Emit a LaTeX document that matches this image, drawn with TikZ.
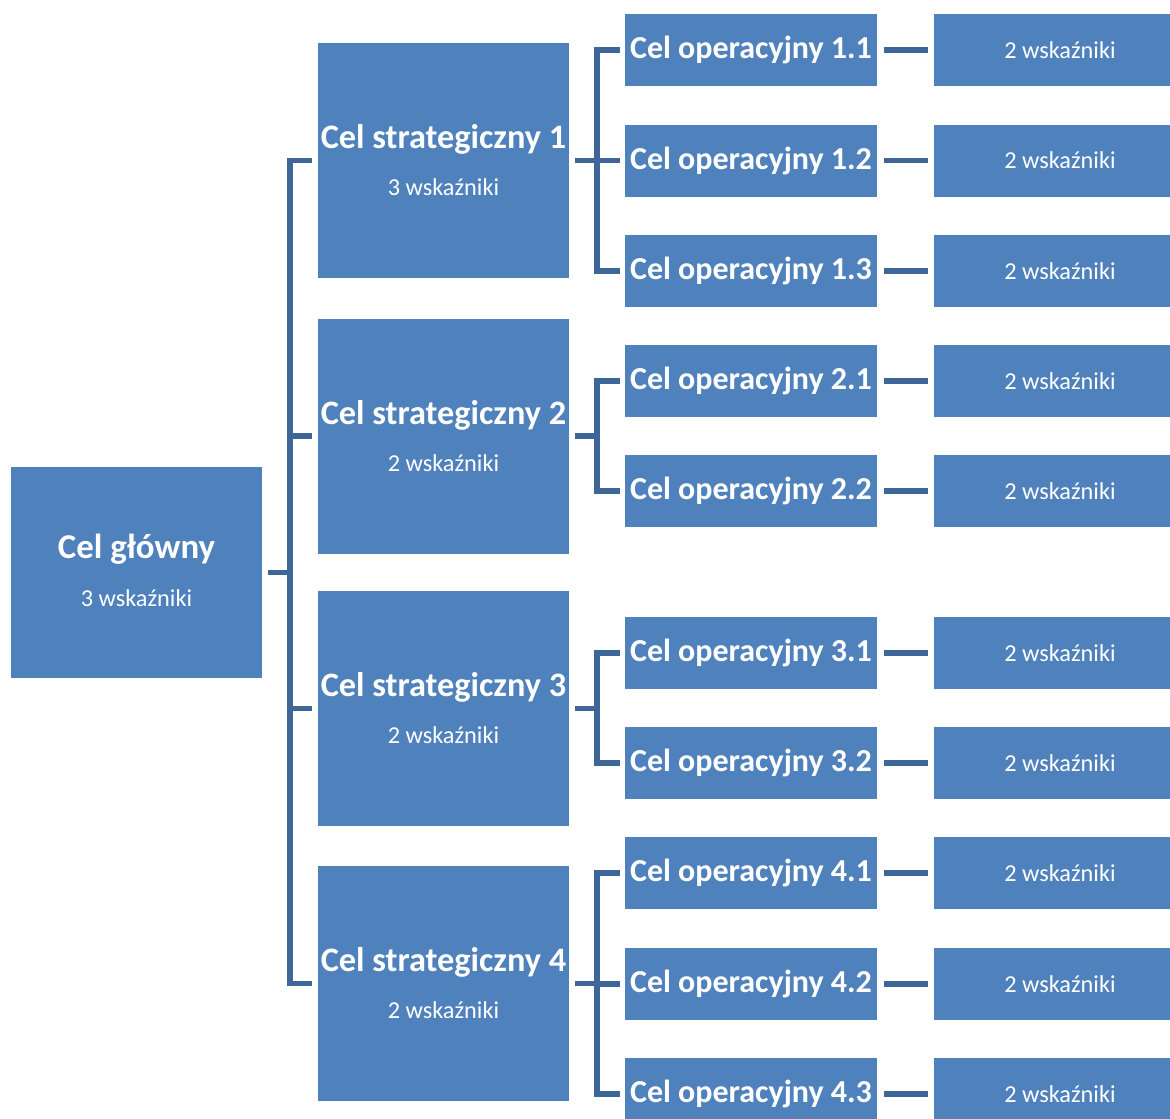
\documentclass[tikz,border=0pt]{standalone}
\usepackage{fontspec}
\setmainfont{Carlito}
\usetikzlibrary{calc}
\definecolor{boxblue}{HTML}{4F81BD}
\definecolor{linkblue}{HTML}{3F6698}
\tikzset{
  box/.style={fill=boxblue, draw=none, inner sep=0pt, outer sep=0pt},
  mainbox/.style={box, minimum width=251pt, minimum height=211pt},
  stratbox/.style={box, minimum width=251pt, minimum height=235pt},
  opbox/.style={box, minimum width=252pt, minimum height=72pt},
  indbox/.style={box, minimum width=252pt, minimum height=72pt},
  bigtitle/.style={text=white, font=\fontsize{34.8}{40}\selectfont\bfseries, inner sep=0pt},
  stitle/.style={text=white, font=\fontsize{34.3}{40}\selectfont\bfseries, inner sep=0pt},
  optitle/.style={text=white, font=\fontsize{32}{38}\selectfont\bfseries, inner sep=0pt},
  subtxt/.style={text=white, font=\fontsize{24.3}{28}\selectfont, inner sep=0pt},
  link/.style={draw=linkblue, line width=5.5pt, line join=miter}
}
\begin{document}
\begin{tikzpicture}[x=1pt,y=-1pt]
\useasboundingbox (0,0) rectangle (1170,1119);
\begin{scope}
\clip (0,0) rectangle (1170,1119);
% main
\node[mainbox] (m) at (136.5,572.5) {};
\node[bigtitle] (mt) at ($(m.center)+(0,-23)$) {Cel główny};
\node[subtxt] (ms) at ($(m.center)+(0,26)$) {3 wskaźniki};
% strategic
\node[stratbox] (s1) at (443.5,160.5) {};
\node[stratbox] (s2) at (443.5,436) {};
\node[stratbox] (s3) at (443.5,708.5) {};
\node[stratbox] (s4) at (443.5,983.5) {};
\node[stitle] (s1t) at ($(s1.center)+(0,-21)$) {Cel strategiczny 1};
\node[subtxt] (s1s) at ($(s1.center)+(0,27)$) {3 wskaźniki};
\node[stitle] (s2t) at ($(s2.center)+(0,-21)$) {Cel strategiczny 2};
\node[subtxt] (s2s) at ($(s2.center)+(0,27)$) {2 wskaźniki};
\node[stitle] (s3t) at ($(s3.center)+(0,-21)$) {Cel strategiczny 3};
\node[subtxt] (s3s) at ($(s3.center)+(0,27)$) {2 wskaźniki};
\node[stitle] (s4t) at ($(s4.center)+(0,-21)$) {Cel strategiczny 4};
\node[subtxt] (s4s) at ($(s4.center)+(0,27)$) {2 wskaźniki};
% operational + indicators
\foreach \n/\lab/\yy in {o11/1.1/50, o12/1.2/160.5, o13/1.3/271, o21/2.1/381, o22/2.2/491, o31/3.1/653, o32/3.2/763, o41/4.1/873, o42/4.2/984, o43/4.3/1094}{
  \node[opbox, optitle] (\n) at (751,\yy) {Cel operacyjny \lab};
  \node[indbox, subtxt] (i\n) at (1060,\yy) {2 wskaźniki};
  \draw[link] ([xshift=7pt]\n.east) -- ([xshift=-6pt]i\n.west);
}
% trunk from main
\coordinate (t) at (290,572.5);
\draw[link] ([xshift=6pt]m.east) -- (t);
\foreach \s in {s1,s2,s3,s4}{
  \draw[link] ([xshift=-6pt]\s.west) -| (t);
}
% branches from strategic
\coordinate (k1) at (597,160.5);
\coordinate (k2) at (597,436);
\coordinate (k3) at (597,708.5);
\coordinate (k4) at (597,983.5);
\draw[link] ([xshift=6pt]s1.east) -- (k1);
\draw[link] ([xshift=6pt]s2.east) -- (k2);
\draw[link] ([xshift=6pt]s3.east) -- (k3);
\draw[link] ([xshift=6pt]s4.east) -- (k4);
\foreach \o/\k in {o11/k1,o12/k1,o13/k1,o21/k2,o22/k2,o31/k3,o32/k3,o41/k4,o42/k4,o43/k4}{
  \draw[link] ([xshift=-5pt]\o.west) -| (\k);
}
\end{scope}
\end{tikzpicture}
\end{document}
